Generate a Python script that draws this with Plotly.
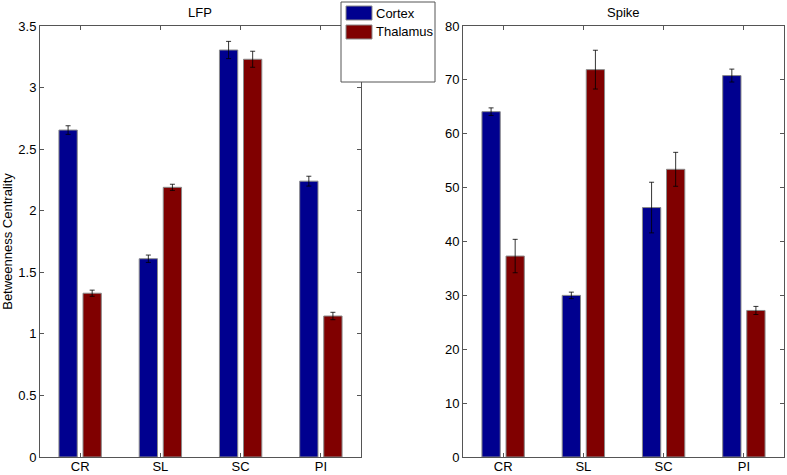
import plotly.graph_objects as go

categories = ["CR", "SL", "SC", "PI"]
series_names = ["Cortex", "Thalamus"]

lfp_cortex = [2.655, 1.61, 3.305, 2.24]
lfp_cortex_err = [0.035, 0.03, 0.07, 0.04]
lfp_thalamus = [1.33, 2.19, 3.23, 1.145]
lfp_thalamus_err = [0.025, 0.025, 0.065, 0.03]

spike_cortex = [64.1, 30.0, 46.3, 70.8]
spike_cortex_err = [0.7, 0.6, 4.7, 1.2]
spike_thalamus = [37.3, 71.9, 53.4, 27.2]
spike_thalamus_err = [3.1, 3.6, 3.15, 0.75]

lfp_ticks = [0, 0.5, 1, 1.5, 2, 2.5, 3, 3.5]
spike_ticks = [0, 10, 20, 30, 40, 50, 60, 70, 80]

colors = {"Cortex": "#00008f", "Thalamus": "#800000"}
W, H = 787, 475
FONT = "Liberation Sans, Arial, Helvetica, sans-serif"
FS = 13

fig = go.Figure()

def add_bars(vals, errs, name, xa, ya):
    fig.add_trace(go.Bar(
        x=categories, y=vals, name=name, xaxis=xa, yaxis=ya,
        marker=dict(color=colors[name], line=dict(color="#8a8a8a", width=1)),
        error_y=dict(type="data", array=errs, visible=True, color="#000000",
                     thickness=0.8, width=2.5),
        showlegend=False, legendgroup=name,
    ))

add_bars(lfp_cortex, lfp_cortex_err, "Cortex", "x", "y")
add_bars(lfp_thalamus, lfp_thalamus_err, "Thalamus", "x", "y")
add_bars(spike_cortex, spike_cortex_err, "Cortex", "x2", "y2")
add_bars(spike_thalamus, spike_thalamus_err, "Thalamus", "x2", "y2")

def px_x(p):
    return p / W

def px_y(p):
    return 1 - p / H

axis_common = dict(
    showline=True, linecolor="#555555", linewidth=1, mirror="ticks",
    ticks="inside", ticklen=4, tickcolor="#555555", showgrid=False,
    zeroline=False, automargin=False,
    tickfont=dict(family=FONT, size=FS, color="#000000"),
)
xaxis_extra = dict(ticklabelstandoff=-3)

# legend box (drawn manually to mimic the boxed legend with wide swatches)
shapes = [dict(type="rect", xref="paper", yref="paper",
               x0=px_x(341), x1=px_x(435), y0=px_y(82), y1=px_y(2),
               fillcolor="white", line=dict(color="#555555", width=1),
               layer="above")]
annotations = [
    dict(text="LFP", xref="paper", yref="paper", x=px_x(200.5), y=px_y(12),
         xanchor="center", yanchor="middle",
         showarrow=False, font=dict(family=FONT, size=FS)),
    dict(text="Spike", xref="paper", yref="paper", x=px_x(623.5), y=px_y(12),
         xanchor="center", yanchor="middle",
         showarrow=False, font=dict(family=FONT, size=FS)),
]
for i, name in enumerate(series_names):
    top = 6 + i * 19
    shapes.append(dict(type="rect", xref="paper", yref="paper",
                       x0=px_x(346), x1=px_x(372), y0=px_y(top + 14), y1=px_y(top),
                       fillcolor=colors[name], line=dict(color="#8a8a8a", width=1),
                       layer="above"))
    annotations.append(dict(text=name, xref="paper", yref="paper",
                            x=px_x(374), y=px_y(top + 7), xanchor="left",
                            yanchor="middle", showarrow=False,
                            font=dict(family=FONT, size=FS)))

fig.update_layout(
    width=W, height=H,
    margin=dict(l=0, r=0, t=0, b=0),
    paper_bgcolor="white", plot_bgcolor="white",
    barmode="group", bargap=0.4, bargroupgap=0.24,
    font=dict(family=FONT, size=FS, color="#000000"),
    showlegend=False,
    xaxis=dict(domain=[px_x(40), px_x(361)], anchor="y",
               categoryorder="array", categoryarray=categories,
               **axis_common, **xaxis_extra),
    yaxis=dict(domain=[px_y(457), px_y(26)], anchor="x", range=[0, 3.5],
               tickvals=lfp_ticks,
               title=dict(text="Betweenness Centrality",
                          font=dict(family=FONT, size=FS), standoff=6),
               **axis_common),
    xaxis2=dict(domain=[px_x(463), px_x(784)], anchor="y2",
                categoryorder="array", categoryarray=categories,
                **axis_common, **xaxis_extra),
    yaxis2=dict(domain=[px_y(457), px_y(26)], anchor="x2", range=[0, 80],
                tickvals=spike_ticks, **axis_common),
    shapes=shapes,
    annotations=annotations,
)

fig.write_html("out.html",
               config={"displayModeBar": False},
               post_script="document.body.style.margin='0';document.body.style.padding='0';")
